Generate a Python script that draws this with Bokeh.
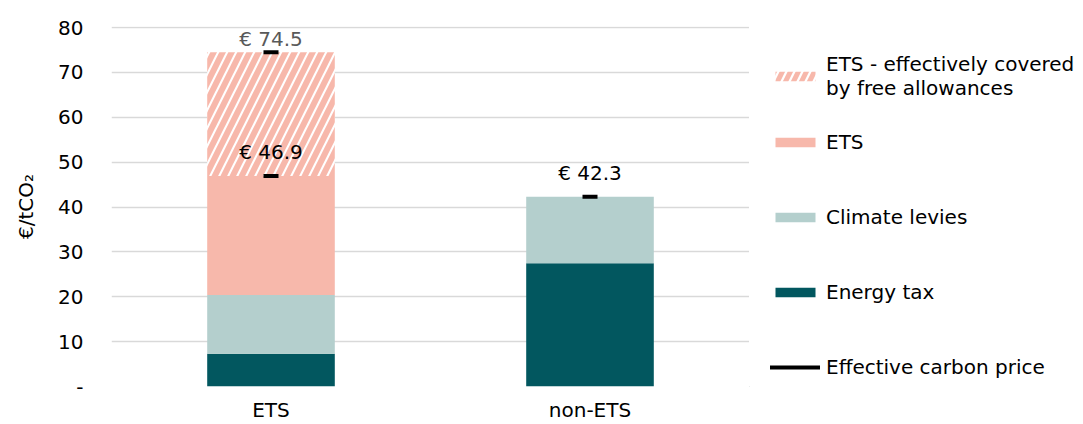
from bokeh.plotting import figure
from bokeh.layouts import row
from bokeh.models import FactorRange, Range1d, Legend, LegendItem, FixedTicker, ColumnDataSource
from bokeh.core.properties import value
from bokeh.embed import file_html
from bokeh.resources import INLINE

# ---- data ----
categories = ["ETS", "non-ETS"]
energy_tax = [7.3, 27.5]
climate_levies = [13.1, 14.8]
ets = [26.5, 0.0]
ets_free = [27.6, 0.0]

price_cats = ["ETS", "ETS", "non-ETS"]
price_vals = [74.5, 46.9, 42.3]
price_labels = ["€ 74.5", "€ 46.9", "€ 42.3"]

y_ticks = [0, 10, 20, 30, 40, 50, 60, 70, 80]

series_names = ["Energy tax", "Climate levies", "ETS", "ETS - effectively covered\nby free allowances"]
price_name = "Effective carbon price"

# ---- style ----
label_colors = ["#595959", "#000000", "#000000"]
label_dy = [-1, -12, -12]
C_ENERGY = "#02575F"
C_CLIMATE = "#B4CFCD"
C_ETS = "#F7B8AB"
FONT = "DejaVu Sans"
FS = "20px"
W, H = 1083, 424
FRAME_R = 749

src = ColumnDataSource(dict(cat=categories, energy=energy_tax, climate=climate_levies,
                            ets=ets, free=ets_free))

p = figure(width=FRAME_R, height=H, x_range=FactorRange(*categories, range_padding=0),
           y_range=Range1d(0, 80.25), output_backend="svg", toolbar_location=None,
           min_border_left=111, min_border_right=0, min_border_top=26, min_border_bottom=37)
p.outline_line_color = None

rs = p.vbar_stack(["energy", "climate", "ets", "free"], x="cat", width=0.4, source=src,
                  color=[C_ENERGY, C_CLIMATE, C_ETS, "white"], line_color=None)
free_r = rs[3]
free_r.glyph.hatch_pattern = "/"
free_r.glyph.hatch_color = C_ETS
free_r.glyph.hatch_scale = 18
free_r.glyph.hatch_weight = 6
free_r.glyph.fill_color = "white"

psrc = ColumnDataSource(dict(cat=price_cats, val=price_vals, lab=price_labels,
                             col=label_colors, dy=label_dy))
p.scatter(x="cat", y="val", source=psrc, marker="dash", size=15, line_width=4, line_color="black")
p.text(x="cat", y="val", text="lab", source=psrc, text_color="col", text_align="center",
       text_baseline="bottom", y_offset="dy", text_font=value(FONT), text_font_size=FS)

# axes
p.yaxis.ticker = FixedTicker(ticks=y_ticks)
p.yaxis.major_label_overrides = {0: "-"}
p.yaxis.axis_label = "€/tCO₂"
p.yaxis.axis_label_text_font_style = "normal"
p.yaxis.axis_label_text_font = FONT
p.yaxis.axis_label_text_font_size = FS
p.yaxis.axis_label_text_color = "#000000"
p.yaxis.axis_label_standoff = 17
p.yaxis.major_label_standoff = 28
for ax in (p.xaxis, p.yaxis):
    ax.axis_line_color = None
    ax.major_tick_line_color = None
    ax.minor_tick_line_color = None
    ax.major_tick_out = 0
    ax.major_tick_in = 0
    ax.minor_tick_out = 0
    ax.major_label_text_font = FONT
    ax.major_label_text_font_size = FS
    ax.major_label_text_color = "#000000"
p.xaxis.major_label_standoff = 11
p.xgrid.grid_line_color = None
p.ygrid.grid_line_color = "#D9D9D9"
p.ygrid.grid_line_width = 1.5

# ---- legend panel (separate figure holding off-range legend glyph proxies) ----
q = figure(width=W - FRAME_R, height=H, x_range=Range1d(0, 1), y_range=Range1d(0, 1),
           output_backend="svg", toolbar_location=None, x_axis_type=None, y_axis_type=None,
           min_border=0)
q.outline_line_color = None
q.grid.grid_line_color = None

off = [-5]
l_free = q.vbar(x=off, top=off, width=0.1, fill_color="white", line_color=None,
                hatch_pattern="/", hatch_color=C_ETS, hatch_scale=16, hatch_weight=5)
l_ets = q.vbar(x=off, top=off, width=0.1, fill_color=C_ETS, line_color=None)
l_cl = q.vbar(x=off, top=off, width=0.1, fill_color=C_CLIMATE, line_color=None)
l_en = q.vbar(x=off, top=off, width=0.1, fill_color=C_ENERGY, line_color=None)
l_pr = q.line(x=[-6, -5], y=[-5, -5], line_color="black", line_width=4, line_cap="round")

common = dict(border_line_color=None, background_fill_alpha=0, padding=0, margin=0,
              glyph_width=50, glyph_height=12, label_standoff=6,
              label_text_font=FONT, label_text_font_size=FS, label_text_color="#000000")

leg1 = Legend(items=[LegendItem(label=series_names[3], renderers=[l_free])],
              location=(21, 286), **common)
leg2 = Legend(items=[LegendItem(label=series_names[2], renderers=[l_ets]),
                     LegendItem(label=series_names[1], renderers=[l_cl]),
                     LegendItem(label=series_names[0], renderers=[l_en]),
                     LegendItem(label=price_name, renderers=[l_pr])],
              location=(21, 7), spacing=51, label_height=24, **common)
q.add_layout(leg1, "center")
q.add_layout(leg2, "center")

layout = row(p, q)
open("out.html", "w").write(file_html(layout, INLINE))
